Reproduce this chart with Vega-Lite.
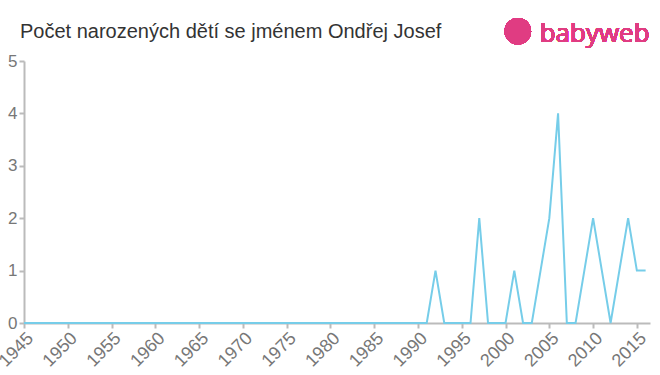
{
  "$schema": "https://vega.github.io/schema/vega-lite/v6.json",
  "width": 626,
  "height": 262,
  "autosize": {"type": "none"},
  "padding": {"left": 24, "top": 61, "right": 10, "bottom": 52},
  "background": "white",
  "title": {
    "text": "Počet narozených dětí se jménem Ondřej Josef",
    "anchor": "start",
    "frame": "group",
    "dx": -4,
    "offset": -24,
    "font": "Liberation Sans",
    "fontSize": 20,
    "fontWeight": "normal",
    "color": "#333333"
  },
  "config": {
    "view": {"stroke": null},
    "axis": {
      "domainColor": "#bbbbbb",
      "domainWidth": 2,
      "tickColor": "#bbbbbb",
      "tickWidth": 2,
      "tickSize": 5,
      "grid": false,
      "labelFont": "Liberation Sans",
      "labelColor": "#777777",
      "title": null
    }
  },
  "data": {
    "values": [
      {"year": 1945, "count": 0}, {"year": 1946, "count": 0}, {"year": 1947, "count": 0}, {"year": 1948, "count": 0},
      {"year": 1949, "count": 0}, {"year": 1950, "count": 0}, {"year": 1951, "count": 0}, {"year": 1952, "count": 0},
      {"year": 1953, "count": 0}, {"year": 1954, "count": 0}, {"year": 1955, "count": 0}, {"year": 1956, "count": 0},
      {"year": 1957, "count": 0}, {"year": 1958, "count": 0}, {"year": 1959, "count": 0}, {"year": 1960, "count": 0},
      {"year": 1961, "count": 0}, {"year": 1962, "count": 0}, {"year": 1963, "count": 0}, {"year": 1964, "count": 0},
      {"year": 1965, "count": 0}, {"year": 1966, "count": 0}, {"year": 1967, "count": 0}, {"year": 1968, "count": 0},
      {"year": 1969, "count": 0}, {"year": 1970, "count": 0}, {"year": 1971, "count": 0}, {"year": 1972, "count": 0},
      {"year": 1973, "count": 0}, {"year": 1974, "count": 0}, {"year": 1975, "count": 0}, {"year": 1976, "count": 0},
      {"year": 1977, "count": 0}, {"year": 1978, "count": 0}, {"year": 1979, "count": 0}, {"year": 1980, "count": 0},
      {"year": 1981, "count": 0}, {"year": 1982, "count": 0}, {"year": 1983, "count": 0}, {"year": 1984, "count": 0},
      {"year": 1985, "count": 0}, {"year": 1986, "count": 0}, {"year": 1987, "count": 0}, {"year": 1988, "count": 0},
      {"year": 1989, "count": 0}, {"year": 1990, "count": 0}, {"year": 1991, "count": 0}, {"year": 1992, "count": 1},
      {"year": 1993, "count": 0}, {"year": 1994, "count": 0}, {"year": 1995, "count": 0}, {"year": 1996, "count": 0},
      {"year": 1997, "count": 2}, {"year": 1998, "count": 0}, {"year": 1999, "count": 0}, {"year": 2000, "count": 0},
      {"year": 2001, "count": 1}, {"year": 2002, "count": 0}, {"year": 2003, "count": 0}, {"year": 2004, "count": 1},
      {"year": 2005, "count": 2}, {"year": 2006, "count": 4}, {"year": 2007, "count": 0}, {"year": 2008, "count": 0},
      {"year": 2009, "count": 1}, {"year": 2010, "count": 2}, {"year": 2011, "count": 1}, {"year": 2012, "count": 0},
      {"year": 2013, "count": 1}, {"year": 2014, "count": 2}, {"year": 2015, "count": 1}, {"year": 2016, "count": 1}
    ]
  },
  "layer": [
    {
      "mark": {"type": "line", "color": "#76cde9", "strokeWidth": 2},
      "encoding": {
        "x": {
          "field": "year",
          "type": "quantitative",
          "scale": {"domain": [1945, 2016.5], "nice": false, "zero": false},
          "axis": {
            "values": [1945, 1950, 1955, 1960, 1965, 1970, 1975, 1980, 1985, 1990, 1995, 2000, 2005, 2010, 2015],
            "format": "d",
            "labelAngle": -45,
            "labelFontSize": 18,
            "labelPadding": 1,
            "labelOverlap": false,
            "labelBound": false,
            "labelFlush": false
          }
        },
        "y": {
          "field": "count",
          "type": "quantitative",
          "scale": {"domain": [0, 5], "nice": false},
          "axis": {"values": [0, 1, 2, 3, 4, 5], "labelFontSize": 17, "labelPadding": 2, "format": "d"}
        }
      }
    },
    {
      "mark": {"type": "point", "filled": true, "color": "#e03c82", "size": 700, "opacity": 1, "clip": false},
      "encoding": {
        "x": {"datum": 2001.4, "type": "quantitative"},
        "y": {"datum": 5.57, "type": "quantitative"}
      }
    },
    {
      "mark": {"type": "text", "text": "babyweb", "color": "#e03c82", "font": "Open Sans", "fontSize": 26, "fontWeight": "normal", "align": "left", "baseline": "alphabetic", "clip": false},
      "encoding": {
        "x": {"datum": 2003.9, "type": "quantitative"},
        "y": {"datum": 5.36, "type": "quantitative"}
      }
    }
  ]
}
